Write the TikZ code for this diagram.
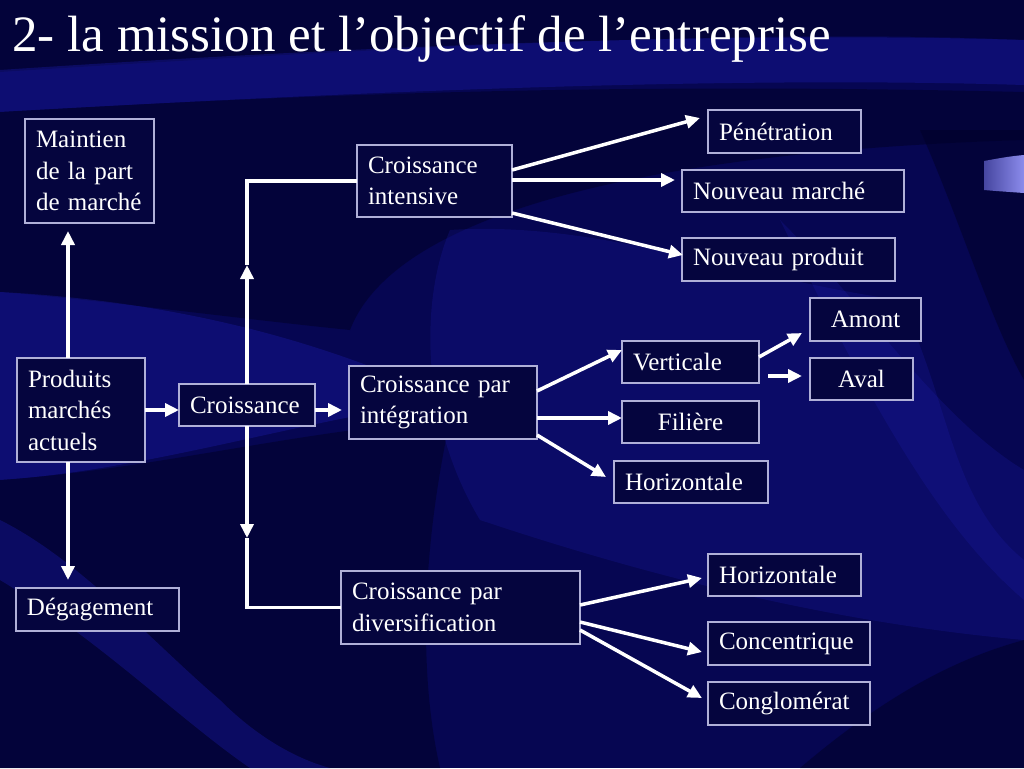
\documentclass[tikz,border=0pt]{standalone}
\usepackage{fontspec}
\setmainfont{Liberation Serif}
\usetikzlibrary{arrows.meta,calc}
\definecolor{bgbase}{HTML}{060652}
\definecolor{bgdark}{HTML}{010128}
\definecolor{bglight}{HTML}{1E1EB4}
\definecolor{boxfill}{HTML}{05053E}
\definecolor{boxline}{HTML}{B0B0D8}
\definecolor{tabdark}{HTML}{4646A0}
\definecolor{tablight}{HTML}{A8A8FF}
\definecolor{tabright}{HTML}{8C8CEC}
\tikzset{
  box/.style={draw=boxline, line width=1.2pt, fill=boxfill, text=white,
    anchor=north west, inner xsep=11pt, inner ysep=0pt, outer sep=0pt,
    align=left, font=\fontsize{25}{31.5}\selectfont},
  cbox/.style={box, align=center},
  arr/.style={draw=white, line width=3.5pt,
    -{Triangle[length=14pt,width=13pt]}},
  wline/.style={draw=white, line width=3.5pt},
  darkband/.style={fill=bgdark, opacity=0.55},
  lightband/.style={fill=bglight, opacity=0.33},
  softband/.style={fill=bglight, opacity=0.22}
}
\begin{document}
\begin{tikzpicture}[x=1pt,y=-1pt]
\useasboundingbox (0,0) rectangle (1024,768);
% background
\fill[bgbase] (0,0) rectangle (1024,768);
\fill[darkband] (0,0) -- (1024,0) -- (1024,40) .. controls (800,30) and (500,40) .. (0,72) -- cycle;
\fill[lightband] (0,70) .. controls (300,50) and (700,30) .. (1024,40) -- (1024,85) .. controls (700,75) and (300,95) .. (0,112) -- cycle;
\fill[darkband] (0,112) .. controls (300,95) and (600,82) .. (1024,92) -- (1024,140) .. controls (700,150) and (400,200) .. (350,330) .. controls (250,320) and (100,300) .. (0,292) -- cycle;
\fill[lightband] (0,292) .. controls (150,300) and (300,330) .. (450,400) .. controls (300,420) and (150,470) .. (0,480) -- cycle;
\fill[darkband] (0,480) .. controls (150,470) and (300,430) .. (450,420) .. controls (420,560) and (420,680) .. (440,768) -- (0,768) -- cycle;
\fill[lightband] (0,520) .. controls (80,560) and (150,640) .. (220,700) .. controls (260,740) and (300,760) .. (330,768) -- (250,768) .. controls (180,720) and (100,640) .. (0,580) -- cycle;
\fill[softband] (450,230) .. controls (600,220) and (750,280) .. (900,300) .. controls (950,400) and (950,500) .. (1024,560) -- (1024,640) .. controls (800,620) and (600,560) .. (480,520) .. controls (420,420) and (420,300) .. (450,230) -- cycle;
\fill[softband] (780,220) .. controls (860,300) and (940,420) .. (1024,470) -- (1024,600) .. controls (930,520) and (860,380) .. (780,220) -- cycle;
\fill[darkband] (920,130) .. controls (960,220) and (990,320) .. (1024,380) -- (1024,130) -- cycle;
\fill[darkband] (800,768) .. controls (880,700) and (950,660) .. (1024,640) -- (1024,768) -- cycle;
% decorative tab
\shade[left color=tabdark, middle color=tablight, right color=tabright] (984,161) .. controls (1000,158) and (1012,156) .. (1024,155) -- (1024,193) .. controls (1010,192) and (995,191) .. (984,190) -- cycle;
% title
\node[text=white, anchor=base west, inner sep=0pt, font=\fontsize{51}{60}\selectfont] (title) at (12,52) {2- la mission et l’objectif de l’entreprise};
% boxes
\node[box, text width=107pt, minimum height=104pt] (maint) at (25,119) {Maintien\\de la part\\de marché};
\node[box, text width=106pt, minimum height=104pt] (prod) at (17,358) {Produits\\marchés\\actuels};
\node[box, text width=114pt, minimum height=42pt] (cro) at (179,384) {Croissance};
\node[box, text width=141pt, minimum height=43pt] (deg) at (16,588) {Dégagement};
\node[box, text width=133pt, minimum height=72pt] (int) at (357,145) {Croissance\\intensive};
\node[box, text width=166pt, minimum height=73pt] (integ) at (349,366) {Croissance par\\intégration};
\node[box, text width=217pt, minimum height=73pt] (div) at (341,571) {Croissance par\\diversification};
\node[box, text width=131pt, minimum height=43pt] (pen) at (708,110) {Pénétration};
\node[box, text width=200pt, minimum height=42pt] (nmar) at (682,170) {Nouveau marché};
\node[box, text width=191pt, minimum height=43pt] (nprod) at (682,238) {Nouveau produit};
\node[box, text width=115pt, minimum height=42pt] (vert) at (622,341) {Verticale};
\node[cbox, text width=89pt, minimum height=43pt] (amont) at (810,298) {Amont};
\node[cbox, text width=81pt, minimum height=42pt] (aval) at (810,358) {Aval};
\node[cbox, text width=115pt, minimum height=42pt] (fil) at (622,401) {Filière};
\node[box, text width=132pt, minimum height=42pt] (hint) at (614,461) {Horizontale};
\node[box, text width=131pt, minimum height=42pt] (hdiv) at (708,554) {Horizontale};
\node[box, text width=140pt, minimum height=43pt] (conc) at (708,622) {Concentrique};
\node[box, text width=140pt, minimum height=43pt] (cong) at (708,682) {Conglomérat};
% connectors
\draw[arr] ($(prod.north west)+(51,0)$) -- ($(maint.south west)+(43,8)$);
\draw[arr] ($(prod.south west)+(51,0)$) -- ($(deg.north west)+(52,-8)$);
\draw[arr] (prod.east) -- (prod.east -| cro.west);
\draw[arr] ($(cro.east)+(0,5)$) -- ($(integ.west)+(-7,7.5)$);
\coordinate (cup) at ($(cro.north)+(0,-119)$);
\coordinate (cdn) at ($(cro.south)+(0,112)$);
\draw[arr] (cro.north) -- (cup);
\draw[wline] (cup) |- (int.west);
\draw[arr] (cro.south) -- (cdn);
\draw[wline] (cdn) |- (div.west);
\draw[arr] ($(int.north east)+(0,25)$) -- ($(pen.north west)+(-8,8)$);
\draw[arr] ($(int.north east)+(0,35)$) -- ($(nmar.north west)+(-7,10)$);
\draw[arr] ($(int.south east)+(0,-4)$) -- ($(nprod.north west)+(1,17)$);
\draw[arr] ($(integ.north east)+(0,25)$) -- ($(vert.north west)+(0,9)$);
\draw[arr] ($(integ.north east)+(0,52)$) -- ($(fil.north west)+(0,17)$);
\draw[arr] ($(integ.south east)+(0,-4)$) -- ($(hint.north west)+(-8,16)$);
\draw[arr] ($(vert.east)+(0,-5)$) -- ($(amont.south west)+(-8,-8)$);
\draw[arr] ($(vert.south east)+(9,-7)$) -- ($(aval.west)+(-8,-3)$);
\draw[arr] ($(div.north east)+(0,34)$) -- ($(hdiv.north west)+(-6,24)$);
\draw[arr] ($(div.north east)+(0,51)$) -- ($(conc.north west)+(-6,30)$);
\draw[arr] ($(div.north east)+(0,59)$) -- ($(cong.north west)+(-6,16)$);
\end{tikzpicture}
\end{document}
